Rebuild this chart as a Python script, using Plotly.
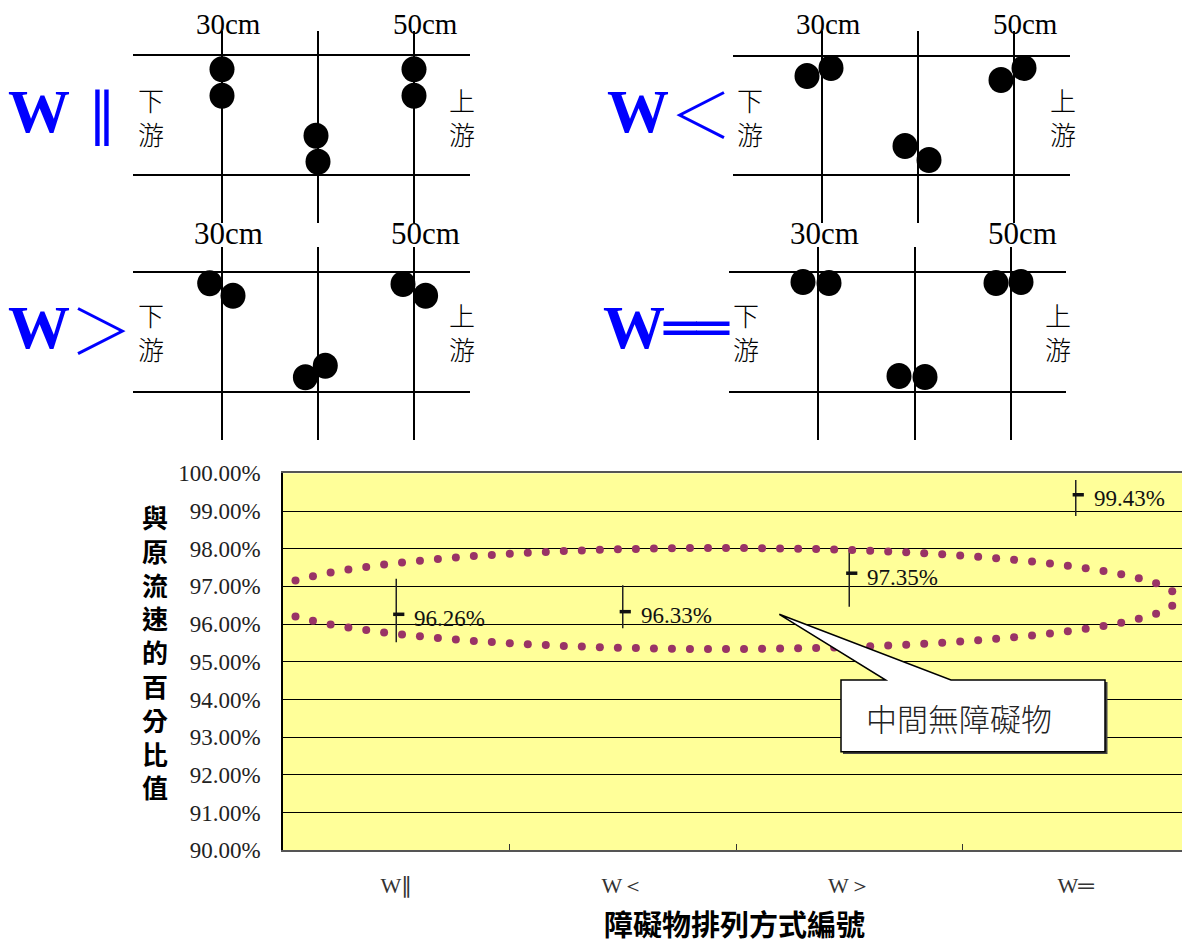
import numpy as np
import plotly.graph_objects as go

# ---------------- data ----------------
categories = ["W∥", "W＜", "W＞", "W═"]
close_pct = [96.26, 96.33, 97.35, 99.43]
high_pct = [97.20, 97.03, 97.98, 99.82]
low_pct = [95.52, 95.89, 96.46, 98.87]
label_text = ["96.26%", "96.33%", "97.35%", "99.43%"]
y_tick_vals = [90, 91, 92, 93, 94, 95, 96, 97, 98, 99, 100]
y_tick_text = ["90.00%", "91.00%", "92.00%", "93.00%", "94.00%", "95.00%",
               "96.00%", "97.00%", "98.00%", "99.00%", "100.00%"]
y_title = "與原流速的百分比值"
x_title = "障礙物排列方式編號"
callout_text = "中間無障礙物"

# ---------------- geometry helpers (layout only) ----------------
FW, FH = 1190, 945
OFF = 8  # page body margin
PL, PR, PT, PB = 283, 1189, 473.3, 850.3


def X(p):
    return (p - OFF) / FW


def Y(p):
    return 1 - (p - OFF) / FH


SERIF = "Liberation Serif"
CJK = "Noto Sans CJK TC"
BLUE = "#0000ff"

fig = go.Figure()

# high-low bars
err_plus = [h - c for h, c in zip(high_pct, close_pct)]
err_minus = [c - l for c, l in zip(close_pct, low_pct)]
fig.add_trace(go.Scatter(
    x=categories, y=close_pct, mode="markers",
    marker=dict(size=1, color="rgba(0,0,0,0)"),
    error_y=dict(type="data", symmetric=False, array=err_plus, arrayminus=err_minus,
                 thickness=1.5, width=0, color="#222222"),
    hoverinfo="skip", showlegend=False,
))

# dotted ellipse (decoration) in pixel units on overlay axes
cx, cy, ea, eb = 721.5, 598.5, 455.5, 50.5
t = np.linspace(0, 2 * np.pi, 4001)
ex = cx - ea * np.cos(t)
ey = cy - eb * np.sin(t)
seg = np.hypot(np.diff(ex), np.diff(ey))
arc = np.concatenate([[0], np.cumsum(seg)])
n_dots = int(round(arc[-1] / 18.0))
targets = np.arange(n_dots) * arc[-1] / n_dots
dot_x = np.interp(targets, arc, ex)
dot_y = np.interp(targets, arc, ey)
fig.add_trace(go.Scatter(
    x=dot_x, y=dot_y, mode="markers", xaxis="x2", yaxis="y2",
    marker=dict(size=8, color="#993366", line=dict(width=0)),
    cliponaxis=False, hoverinfo="skip", showlegend=False,
))

# close ticks (to the right of the bar)
fig.add_trace(go.Scatter(
    x=categories, y=close_pct, mode="markers", xaxis="x3", yaxis="y",
    marker=dict(symbol="line-ew", size=8, line=dict(width=3.5, color="#111111")),
    hoverinfo="skip", showlegend=False,
))

annotations = []
for c, v, s in zip(categories, close_pct, label_text):
    annotations.append(dict(
        x=c, y=v, xref="x", yref="y", text=s, showarrow=False,
        xanchor="left", yanchor="middle", xshift=16, yshift=-4,
        font=dict(family=SERIF, size=23, color="#111111"),
    ))

# axis titles
annotations.append(dict(
    x=X(155), y=Y(651), xref="paper", yref="paper", showarrow=False,
    text="<br>".join(list(y_title)), xanchor="center", yanchor="middle",
    font=dict(family=CJK, size=26, color="#000000", weight="bold"),
))
annotations.append(dict(
    x=X(734), y=Y(923), xref="paper", yref="paper", showarrow=False,
    text=x_title, xanchor="center", yanchor="middle",
    font=dict(family=CJK, size=29, color="#000000", weight="bold"),
))

shapes = []

# callout
shapes.append(dict(type="rect", xref="paper", yref="paper", layer="above",
                   x0=X(843), x1=X(1107.5), y0=Y(682), y1=Y(754),
                   fillcolor="#444444", line=dict(width=0)))
path = "M {} {} L {} {} L {} {} L {} {} L {} {} L {} {} L {} {} Z".format(
    X(841), Y(680), X(885.7), Y(680), X(779.3), Y(614.3), X(951), Y(680),
    X(1105), Y(680), X(1105), Y(751.7), X(841), Y(751.7))
shapes.append(dict(type="path", path=path, xref="paper", yref="paper", layer="above",
                   fillcolor="#ffffff", line=dict(color="#000000", width=1.5)))
annotations.append(dict(
    x=X(959), y=Y(717), xref="paper", yref="paper", showarrow=False,
    text=callout_text, xanchor="center", yanchor="middle",
    font=dict(family=CJK, size=31, color="#222222", weight=300),
))

# ---------------- top diagrams ----------------
panels = [
    dict(hy=[55, 175], hx=[133, 470], vx=[222, 318, 414], vy=[31, 223],
         dots=[(222, 69.3), (222, 95.7), (316, 135.7), (318, 161.7), (414, 69.3), (414, 95.7)],
         cm=[(228, 24), (425, 24)], cm_size=29, w=(39, 111), sym="‖", sym_xy=(102, 113),
         sym_font=dict(family="DejaVu Serif", size=56, color=BLUE),
         down=(151, 116), up=(462, 116)),
    dict(hy=[272, 392], hx=[133, 470], vx=[222, 318, 414], vy=[247, 440],
         dots=[(209.7, 283.3), (233, 295.7), (403, 284), (425.6, 295.7), (305.4, 377.3), (325.3, 365.7)],
         cm=[(228, 234), (425, 234)], cm_size=31, w=(39, 327), sym="＞", sym_xy=(101, 328),
         sym_font=dict(family=CJK, size=62, color=BLUE, weight=200),
         down=(151, 331), up=(462, 331)),
    dict(hy=[56, 175], hx=[733, 1070], vx=[822, 918, 1014], vy=[31, 223],
         dots=[(807, 76), (831, 68), (1001, 80), (1024, 68), (905, 146), (929, 160)],
         cm=[(828, 24), (1025, 24)], cm_size=29, w=(638, 111), sym="＜", sym_xy=(701, 112),
         sym_font=dict(family=CJK, size=62, color=BLUE, weight=200),
         down=(750, 116), up=(1063, 116)),
    dict(hy=[272, 392], hx=[729, 1066], vx=[818, 915, 1011], vy=[247, 440],
         dots=[(803, 282), (829, 283), (996, 283), (1021, 282), (899, 376), (925, 377)],
         cm=[(824, 234), (1022, 234)], cm_size=31, w=(634, 327), sym="══", sym_xy=(697, 328),
         sym_font=dict(family="DejaVu Sans Mono", size=54, color=BLUE),
         down=(746, 331), up=(1058, 331)),
]

R = 12.5
for p in panels:
    for hy in p["hy"]:
        shapes.append(dict(type="line", xref="paper", yref="paper",
                           x0=X(p["hx"][0]), x1=X(p["hx"][1]), y0=Y(hy), y1=Y(hy),
                           line=dict(color="#000000", width=2)))
    for vx in p["vx"]:
        shapes.append(dict(type="line", xref="paper", yref="paper",
                           x0=X(vx), x1=X(vx), y0=Y(p["vy"][0]), y1=Y(p["vy"][1]),
                           line=dict(color="#000000", width=2)))
    for (dx, dy) in p["dots"]:
        shapes.append(dict(type="circle", xref="paper", yref="paper",
                           x0=X(dx - R), x1=X(dx + R), y0=Y(dy - R - 0.5), y1=Y(dy + R + 0.5),
                           fillcolor="#000000", line=dict(color="#000000", width=0)))
    for (tx, ty), s in zip(p["cm"], ["30cm", "50cm"]):
        annotations.append(dict(x=X(tx), y=Y(ty), xref="paper", yref="paper", showarrow=False,
                                text=s, xanchor="center", yanchor="middle",
                                font=dict(family=SERIF, size=p["cm_size"], color="#000000")))
    annotations.append(dict(x=X(p["w"][0]), y=Y(p["w"][1]), xref="paper", yref="paper",
                            showarrow=False, text="<b>W</b>", xanchor="center", yanchor="middle",
                            font=dict(family=SERIF, size=62, color=BLUE)))
    annotations.append(dict(x=X(p["sym_xy"][0]), y=Y(p["sym_xy"][1]), xref="paper", yref="paper",
                            showarrow=False, text=p["sym"], xanchor="center", yanchor="middle",
                            font=p["sym_font"]))
    for (tx, ty), s in zip([p["down"], p["up"]], ["下<br>游", "上<br>游"]):
        annotations.append(dict(x=X(tx), y=Y(ty), xref="paper", yref="paper", showarrow=False,
                                text=s, xanchor="center", yanchor="middle",
                                font=dict(family=CJK, size=26, color="#000000", weight=300)))

shift = 2.5 / ((PR - PL) / 4.0)

fig.update_layout(
    width=FW, height=FH, autosize=False,
    margin=dict(l=0, r=0, t=0, b=0, pad=0, autoexpand=False),
    paper_bgcolor="#ffffff",
    plot_bgcolor="#ffff99",
    showlegend=False,
    xaxis=dict(
        type="category", categoryorder="array", categoryarray=categories,
        domain=[X(PL), X(PR)], range=[-0.5, 3.5], automargin=False,
        tickson="boundaries", ticks="inside", ticklen=6, tickcolor="#333333", tickwidth=1,
        showgrid=False, zeroline=False,
        showline=True, linecolor="#555555", linewidth=2, mirror=True,
        tickfont=dict(family=SERIF, size=22, color="#333333"),
        ticklabelstandoff=14,
    ),
    yaxis=dict(
        domain=[Y(PB), Y(PT)], range=[90, 100], automargin=False,
        tickmode="array", tickvals=y_tick_vals, ticktext=y_tick_text,
        ticks="inside", ticklen=7, tickcolor="#000000",
        showgrid=True, gridcolor="#000000", gridwidth=1,
        zeroline=False, showline=True, linecolor="#000000", linewidth=1.5,
        tickfont=dict(family=SERIF, size=23, color="#222222"),
        ticklabelstandoff=16,
    ),
    xaxis2=dict(overlaying="x", anchor="y2", range=[PL, PR], visible=False, automargin=False),
    yaxis2=dict(overlaying="y", anchor="x2", range=[PB, PT], visible=False, automargin=False),
    xaxis3=dict(overlaying="x", anchor="y", type="category", categoryorder="array",
                categoryarray=categories, range=[-0.5 - shift, 3.5 - shift], visible=False,
                automargin=False),
    shapes=shapes,
    annotations=annotations,
)

fig.write_html("out.html")
